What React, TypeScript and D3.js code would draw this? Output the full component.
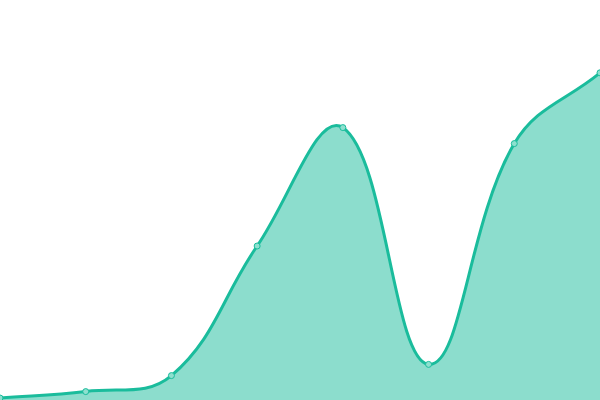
import React from "react";
import * as d3 from "d3";

const categories = ["A", "B", "C", "D", "E", "F", "G", "H"];
const values = [0.5, 2.1, 6.1, 38.5, 68.1, 8.9, 64.1, 81.8];

const W = 600;
const H = 400;
const TENSION = 0.4;

type P = { x: number; y: number };

function splinePath(pts: P[], t: number, closeTo?: number): string {
  const ctrl = pts.map((cur, i) => {
    const prev = i > 0 ? pts[i - 1] : cur;
    const next = i < pts.length - 1 ? pts[i + 1] : cur;
    const d01 = Math.hypot(cur.x - prev.x, cur.y - prev.y);
    const d12 = Math.hypot(next.x - cur.x, next.y - cur.y);
    let s01 = d01 / (d01 + d12);
    let s12 = d12 / (d01 + d12);
    if (isNaN(s01)) s01 = 0;
    if (isNaN(s12)) s12 = 0;
    const fa = t * s01;
    const fb = t * s12;
    return {
      px: cur.x - fa * (next.x - prev.x),
      py: cur.y - fa * (next.y - prev.y),
      nx: cur.x + fb * (next.x - prev.x),
      ny: cur.y + fb * (next.y - prev.y),
    };
  });
  const p = d3.path();
  p.moveTo(pts[0].x, pts[0].y);
  for (let i = 1; i < pts.length; i++) {
    p.bezierCurveTo(
      ctrl[i - 1].nx,
      Math.min(Math.max(ctrl[i - 1].ny, 0), H),
      ctrl[i].px,
      Math.min(Math.max(ctrl[i].py, 0), H),
      pts[i].x,
      pts[i].y
    );
  }
  if (closeTo !== undefined) {
    p.lineTo(pts[pts.length - 1].x, closeTo);
    p.lineTo(pts[0].x, closeTo);
    p.closePath();
  }
  return p.toString();
}

export default function App() {
  const x = d3.scalePoint<string>().domain(categories).range([0, W]);
  const y = d3.scaleLinear().domain([0, 100]).range([H, 0]);
  const pts: P[] = categories.map((c, i) => ({ x: x(c)!, y: y(values[i]) }));
  const color = "#1abc9c";
  return (
    <svg
      width={W}
      height={H}
      style={{ position: "absolute", left: 0, top: 0, display: "block" }}
    >
      <path d={splinePath(pts, TENSION, y(0))} fill={color} fillOpacity={0.5} />
      <path d={splinePath(pts, TENSION)} fill="none" stroke={color} strokeWidth={3} />
      {pts.map((d, i) => (
        <circle
          key={categories[i]}
          cx={d.x}
          cy={d.y}
          r={3}
          fill="#8ee0cf"
          stroke={color}
          strokeWidth={1}
        />
      ))}
    </svg>
  );
}
